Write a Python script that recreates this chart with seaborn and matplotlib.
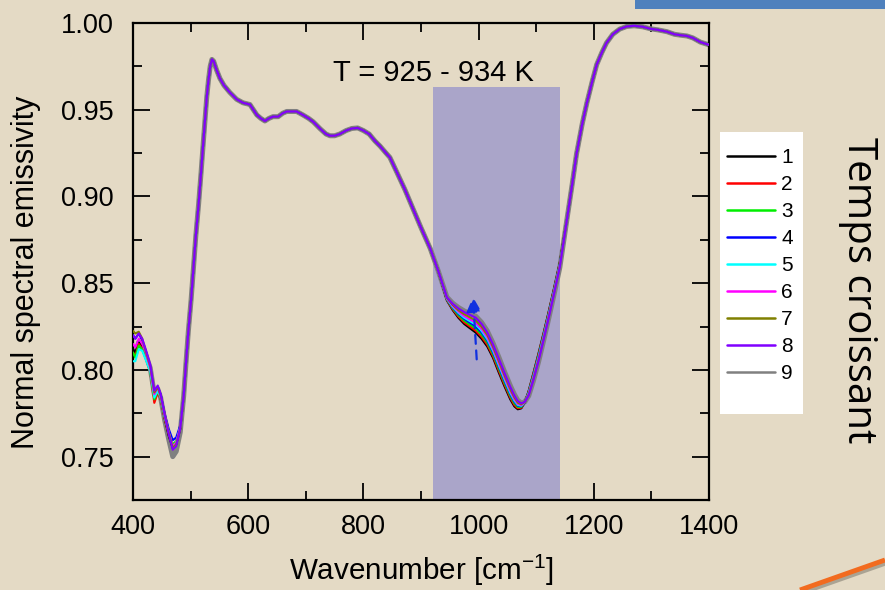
import numpy as np
import pandas as pd
import matplotlib
matplotlib.use("Agg")
import matplotlib.pyplot as plt
import matplotlib.patheffects as pe
from matplotlib.lines import Line2D
from matplotlib.patches import Rectangle
import seaborn as sns

# ---- spectra: wavenumber (cm^-1) and normal spectral emissivity ----
runs = ["1", "2", "3", "4", "5", "6", "7", "8", "9"]
run_colors = ["#000000", "#ff0000", "#00ee00", "#0000ff", "#00ffff",
              "#ff00ff", "#808000", "#8000ff", "#808080"]

# low-wavenumber band, per run
low_wn = [400, 404, 410, 416, 422, 430, 437, 443, 448, 455, 462, 469, 475, 482]
low_band = {
    "1": [0.812, 0.810, 0.816, 0.813, 0.808, 0.800, 0.785, 0.789, 0.784, 0.772, 0.762, 0.755, 0.757, 0.766],
    "2": [0.810, 0.808, 0.815, 0.812, 0.807, 0.799, 0.781, 0.787, 0.783, 0.772, 0.763, 0.756, 0.758, 0.767],
    "3": [0.810, 0.807, 0.814, 0.812, 0.807, 0.799, 0.783, 0.788, 0.784, 0.773, 0.764, 0.757, 0.759, 0.767],
    "4": [0.820, 0.818, 0.821, 0.817, 0.811, 0.802, 0.786, 0.790, 0.786, 0.775, 0.766, 0.7595, 0.761, 0.768],
    "5": [0.805, 0.805, 0.812, 0.811, 0.806, 0.799, 0.784, 0.788, 0.784, 0.773, 0.764, 0.756, 0.758, 0.767],
    "6": [0.815, 0.813, 0.818, 0.815, 0.810, 0.801, 0.786, 0.790, 0.785, 0.774, 0.764, 0.756, 0.758, 0.767],
    "7": [0.8225, 0.821, 0.822, 0.818, 0.811, 0.802, 0.787, 0.790, 0.785, 0.774, 0.764, 0.755, 0.757, 0.766],
    "8": [0.820, 0.818, 0.821, 0.818, 0.812, 0.803, 0.788, 0.791, 0.786, 0.774, 0.763, 0.754, 0.756, 0.766],
    "9": [0.810, 0.809, 0.816, 0.814, 0.809, 0.801, 0.786, 0.789, 0.784, 0.771, 0.760, 0.750, 0.753, 0.764],
}

# common part of the spectrum (all runs overlap)
mid_wn = [488, 492, 496, 501, 505, 509, 514, 518, 522, 525, 528, 531, 534, 537, 540,
          545, 551, 558, 568, 580, 591, 603, 615, 622, 629, 636, 643, 652, 660, 667,
          675, 684, 695, 705, 713, 725, 735, 742, 750, 759, 770, 780, 790, 800, 810,
          820, 829, 838, 846, 858, 872, 886, 900, 916, 930]
mid_em = [0.785, 0.804, 0.822, 0.841, 0.859, 0.877, 0.896, 0.913, 0.931, 0.944, 0.957,
          0.967, 0.975, 0.979, 0.978, 0.973, 0.968, 0.964, 0.960, 0.956, 0.954, 0.953,
          0.947, 0.945, 0.9435, 0.945, 0.946, 0.946, 0.948, 0.949, 0.949, 0.949, 0.947,
          0.945, 0.943, 0.939, 0.936, 0.935, 0.935, 0.936, 0.938, 0.9392, 0.9395, 0.938,
          0.936, 0.932, 0.929, 0.9255, 0.9225, 0.914, 0.904, 0.893, 0.882, 0.870, 0.857]

# absorption band inside the shaded window, per run
band_wn = [945, 955, 965, 975, 985, 995, 1005, 1015, 1025, 1035, 1045, 1055, 1062,
           1068, 1074, 1080, 1087, 1095, 1104, 1113, 1122, 1131, 1141]
absorption_band = {
    "1": [0.840, 0.8345, 0.830, 0.8265, 0.824, 0.8215, 0.818, 0.8135, 0.807, 0.7985, 0.7905, 0.783,
          0.779, 0.7773, 0.7778, 0.781, 0.788, 0.798, 0.8095, 0.8215, 0.834, 0.847, 0.862],
    "2": [0.8402, 0.8350, 0.8307, 0.8274, 0.8250, 0.8226, 0.8191, 0.8146, 0.8080, 0.7996, 0.7915, 0.7840,
          0.7798, 0.7779, 0.7782, 0.7811, 0.7876, 0.7975, 0.8089, 0.8210, 0.8335, 0.8466, 0.8616],
    "3": [0.8405, 0.8355, 0.8315, 0.8284, 0.8261, 0.8239, 0.8204, 0.8158, 0.8091, 0.8008, 0.7926, 0.7850,
          0.7808, 0.7786, 0.7786, 0.7811, 0.7873, 0.7969, 0.8083, 0.8204, 0.8330, 0.8461, 0.8613],
    "4": [0.8408, 0.8360, 0.8323, 0.8294, 0.8272, 0.8251, 0.8216, 0.8169, 0.8102, 0.8019, 0.7937, 0.7860,
          0.7817, 0.7793, 0.7790, 0.7812, 0.7869, 0.7963, 0.8076, 0.8198, 0.8325, 0.8457, 0.8609],
    "5": [0.8410, 0.8364, 0.8329, 0.8301, 0.8281, 0.8261, 0.8226, 0.8178, 0.8111, 0.8028, 0.7946, 0.7868,
          0.7824, 0.7798, 0.7793, 0.7812, 0.7866, 0.7958, 0.8071, 0.8193, 0.8321, 0.8453, 0.8606],
    "6": [0.8412, 0.8369, 0.8336, 0.8310, 0.8291, 0.8272, 0.8237, 0.8189, 0.8121, 0.8039, 0.7956, 0.7878,
          0.7832, 0.7804, 0.7797, 0.7813, 0.7862, 0.7953, 0.8065, 0.8188, 0.8316, 0.8449, 0.8602],
    "7": [0.8415, 0.8375, 0.8344, 0.8321, 0.8303, 0.8285, 0.8250, 0.8202, 0.8133, 0.8052, 0.7968, 0.7889,
          0.7842, 0.7811, 0.7802, 0.7814, 0.7858, 0.7947, 0.8058, 0.8182, 0.8310, 0.8444, 0.8598],
    "8": [0.8418, 0.8381, 0.8354, 0.8333, 0.8317, 0.8301, 0.8266, 0.8216, 0.8147, 0.8066, 0.7982, 0.7902,
          0.7853, 0.7820, 0.7807, 0.7815, 0.7853, 0.7940, 0.8050, 0.8175, 0.8304, 0.8439, 0.8593],
    "9": [0.842, 0.8385, 0.836, 0.834, 0.8325, 0.831, 0.8275, 0.8225, 0.8155, 0.8075, 0.799, 0.791,
          0.786, 0.7825, 0.781, 0.7815, 0.785, 0.7935, 0.8045, 0.817, 0.830, 0.8435, 0.859],
}

# high-wavenumber side (all runs overlap)
high_wn = [1153, 1162, 1170, 1180, 1188, 1197, 1205, 1214, 1222, 1233, 1245, 1257,
           1270, 1285, 1298, 1312, 1327, 1340, 1350, 1362, 1372, 1385, 1400]
high_em = [0.886, 0.906, 0.9245, 0.942, 0.954, 0.966, 0.976, 0.983, 0.9885, 0.9935, 0.9965,
           0.998, 0.9984, 0.9978, 0.9967, 0.996, 0.995, 0.9935, 0.993, 0.9925, 0.9914, 0.989, 0.9874]

window_wn = [920, 1141]          # shaded temperature window
window_top = 0.963
window_label = "T = 925 - 934 K"

# ---- assemble long-form table ----
frames = []
for r in runs:
    wn = low_wn + mid_wn + band_wn + high_wn
    em = low_band[r] + mid_em + absorption_band[r] + high_em
    frames.append(pd.DataFrame({"wavenumber": wn, "emissivity": em, "run": r}))
df = pd.concat(frames, ignore_index=True)

# ---- styling ----
bg = "#e4dac5"
sns.set_style("ticks")
plt.rcParams["font.family"] = ["Liberation Sans", "DejaVu Sans"]
plt.rcParams["mathtext.default"] = "regular"
for key in ("text.color", "axes.labelcolor", "xtick.color", "ytick.color",
            "xtick.labelcolor", "ytick.labelcolor"):
    plt.rcParams[key] = "black"

fig = plt.figure(figsize=(8.85, 5.9), dpi=100, facecolor=bg)
ax = fig.add_axes([133 / 885, 1 - 500 / 590, 576 / 885, 477 / 590])
ax.set_facecolor("none")

ax.fill_between(window_wn, 0.725, window_top, color="#aaa5c9", lw=0, zorder=1)

for r, c in zip(runs, run_colors):
    sub = df[df["run"] == r]
    lw = 3.6 if r == "9" else 1.5
    z = 2 if r == "9" else 3
    sns.lineplot(data=sub, x="wavenumber", y="emissivity", color=c, lw=lw,
                 estimator=None, sort=False, ax=ax, zorder=z, legend=False)

ax.annotate("", xy=(990, 0.8436), xytext=(997, 0.8045),
            arrowprops=dict(arrowstyle="-|>", color="#1030e0", lw=1.6,
                            linestyle=(0, (4, 3)), mutation_scale=22), zorder=5)

ax.text(921, 0.971, window_label, ha="center", va="center", fontsize=21)

ax.set_xlim(400, 1400)
ax.set_ylim(0.725, 1.0)
ax.set_xticks([400, 600, 800, 1000, 1200, 1400])
ax.set_xticks([500, 700, 900, 1100, 1300], minor=True)
ax.set_yticks([0.75, 0.80, 0.85, 0.90, 0.95, 1.00])
ax.set_yticks([0.775, 0.825, 0.875, 0.925, 0.975], minor=True)
ax.yaxis.set_major_formatter(matplotlib.ticker.FormatStrFormatter("%.2f"))
ax.tick_params(which="both", direction="in", top=True, right=True, width=1.3,
               color="black", labelcolor="black", labelsize=19.5)
ax.tick_params(which="major", length=12)
ax.tick_params(which="minor", length=6.5)
ax.tick_params(axis="x", which="major", pad=10)
ax.tick_params(axis="y", which="major", pad=14)
for s in ax.spines.values():
    s.set_linewidth(1.6)
    s.set_color("black")
ax.set_xlabel("")
ax.set_ylabel("")

fig.text(26 / 885, 1 - 272 / 590, "Normal spectral emissivity", rotation=90,
         ha="center", va="center", fontsize=22)
fig.text(421 / 885, 1 - 570 / 590, r"Wavenumber [cm$^{-1}$]",
         ha="center", va="center", fontsize=21.3)

# legend panel
fig.add_artist(Rectangle((720 / 885, 1 - 414 / 590), 83 / 885, 282 / 590,
                         transform=fig.transFigure, facecolor="white",
                         edgecolor="none", zorder=1))
handles = [Line2D([0], [0], color=c, lw=1.8) for c in run_colors]
leg = fig.legend(handles, runs, loc="upper left",
                 bbox_to_anchor=(727 / 885, 1 - 148 / 590), frameon=False,
                 fontsize=15, handlelength=2.3, handletextpad=0.3,
                 labelspacing=0.385, borderpad=0.0, borderaxespad=0.0)
leg.set_zorder(2)

fig.text(858 / 885, 1 - 290 / 590, "Temps croissant", rotation=270,
         ha="center", va="center", fontsize=29, family=["Open Sans", "DejaVu Sans"])

# decorative slide elements
fig.add_artist(Rectangle((635 / 885, 1 - 9 / 590), 250 / 885, 9 / 590,
                         transform=fig.transFigure, facecolor="#4f81bd",
                         edgecolor="none"))
fig.add_artist(Line2D([800 / 885, 1.0], [0.0, 30 / 590], transform=fig.transFigure,
                      color="#f26b1f", lw=3.5, solid_capstyle="butt",
                      path_effects=[pe.SimpleLineShadow(offset=(1, -2), alpha=0.25),
                                    pe.Normal()]))

fig.savefig("out.png", dpi=100, facecolor=bg)
